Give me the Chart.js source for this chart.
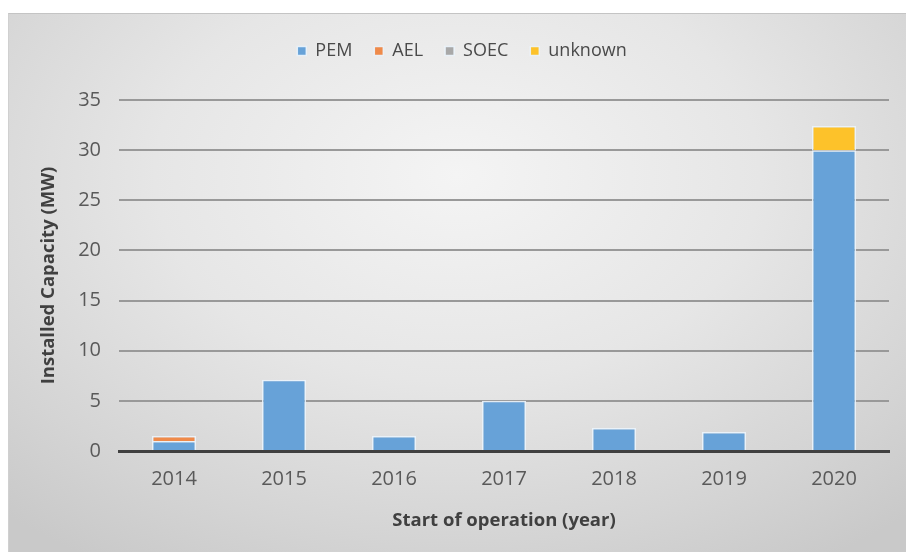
<!DOCTYPE html>
<html>
<head>
<meta charset="utf-8">
<script src="https://cdn.jsdelivr.net/npm/chart.js@4"></script>
<style>
  html, body { margin: 0; padding: 0; background: #fff; }
  body { width: 906px; height: 552px; overflow: hidden; position: relative; }
  #panel {
    position: absolute; left: 8px; top: 13px; width: 898px; height: 539px;
    border-top: 1px solid #c4c4c4; border-left: 1px solid #d0d0d0;
    box-sizing: border-box;
    background: radial-gradient(ellipse 75% 85% at 50% 30%, #f4f4f4 0%, #e6e6e6 45%, #d4d4d4 80%, #c9c9c9 100%);
  }
  #chart { position: absolute; left: 0; top: 0; }
</style>
</head>
<body>
<div id="panel"><canvas id="chart" width="898" height="539"></canvas></div>
<script>
const years = ['2014', '2015', '2016', '2017', '2018', '2019', '2020'];
const pem = [1.0, 7.1, 1.5, 5.0, 2.3, 1.9, 30.0];
const ael = [0.5, 0, 0, 0, 0, 0, 0];
const soec = [0, 0, 0, 0, 0, 0, 0];
const unknown = [0, 0, 0, 0, 0, 0, 2.4];

const font = "'Open Sans', sans-serif";
const edge = 'rgba(235,244,252,0.9)';

// legend takes the whole band above the plot, then gets nudged to where Excel put it
const legendBox = {
    id: 'legendBox',
    beforeInit(chart) {
        const fit = chart.legend.fit;
        chart.legend.fit = function () {
            fit.bind(chart.legend)();
            this.height = 86;
        };
    },
    afterLayout(chart) {
        const lg = chart.legend;
        lg.top += 6; lg.bottom += 6;
        lg.left += 13; lg.right += 13;
    }
};

new Chart(document.getElementById('chart'), {
    type: 'bar',
    data: {
        labels: years,
        datasets: [
            { label: 'PEM', data: pem, backgroundColor: '#67a2d8', borderColor: edge, borderWidth: 1.5 },
            { label: 'AEL', data: ael, backgroundColor: '#ef8a4a', borderColor: edge, borderWidth: 1.5 },
            { label: 'SOEC', data: soec, backgroundColor: '#a8a8a8', borderColor: edge, borderWidth: 1.5 },
            { label: 'unknown', data: unknown, backgroundColor: '#fdc22a', borderColor: edge, borderWidth: 1.5 }
        ]
    },
    options: {
        responsive: false,
        animation: false,
        layout: { padding: { left: 0, right: 18, top: 0, bottom: 0 } },
        datasets: { bar: { categoryPercentage: 1, barPercentage: 0.4 } },
        plugins: {
            tooltip: { enabled: false },
            legend: {
                position: 'top',
                labels: {
                    boxWidth: 9, boxHeight: 9, padding: 22,
                    color: '#4a4a4a',
                    font: { family: font, size: 18 }
                }
            }
        },
        scales: {
            x: {
                stacked: true,
                grid: { display: false, drawTicks: false },
                border: { display: true, color: '#404040', width: 3 },
                ticks: { color: '#595959', padding: 16, font: { family: font, size: 20 } },
                title: {
                    display: true, text: 'Start of operation (year)', color: '#404040',
                    font: { family: font, size: 18.5, weight: 'bold' },
                    padding: { top: 0, bottom: 21 }
                },
                afterFit(scale) { scale.height = 102; }
            },
            y: {
                stacked: true,
                min: 0, max: 35,
                grid: {
                    color: ctx => ctx.tick.value === 0 ? 'rgba(0,0,0,0)' : '#999999',
                    lineWidth: 2, drawTicks: false
                },
                border: { display: false },
                ticks: { stepSize: 5, color: '#595959', padding: 18, font: { family: font, size: 20 } },
                title: {
                    display: true, text: 'Installed Capacity (MW)', color: '#404040',
                    font: { family: font, size: 18.5, weight: 'bold' },
                    padding: { top: 29, bottom: 0 }
                },
                afterFit(scale) { scale.width = 110; }
            }
        }
    },
    plugins: [legendBox]
});
</script>
</body>
</html>
